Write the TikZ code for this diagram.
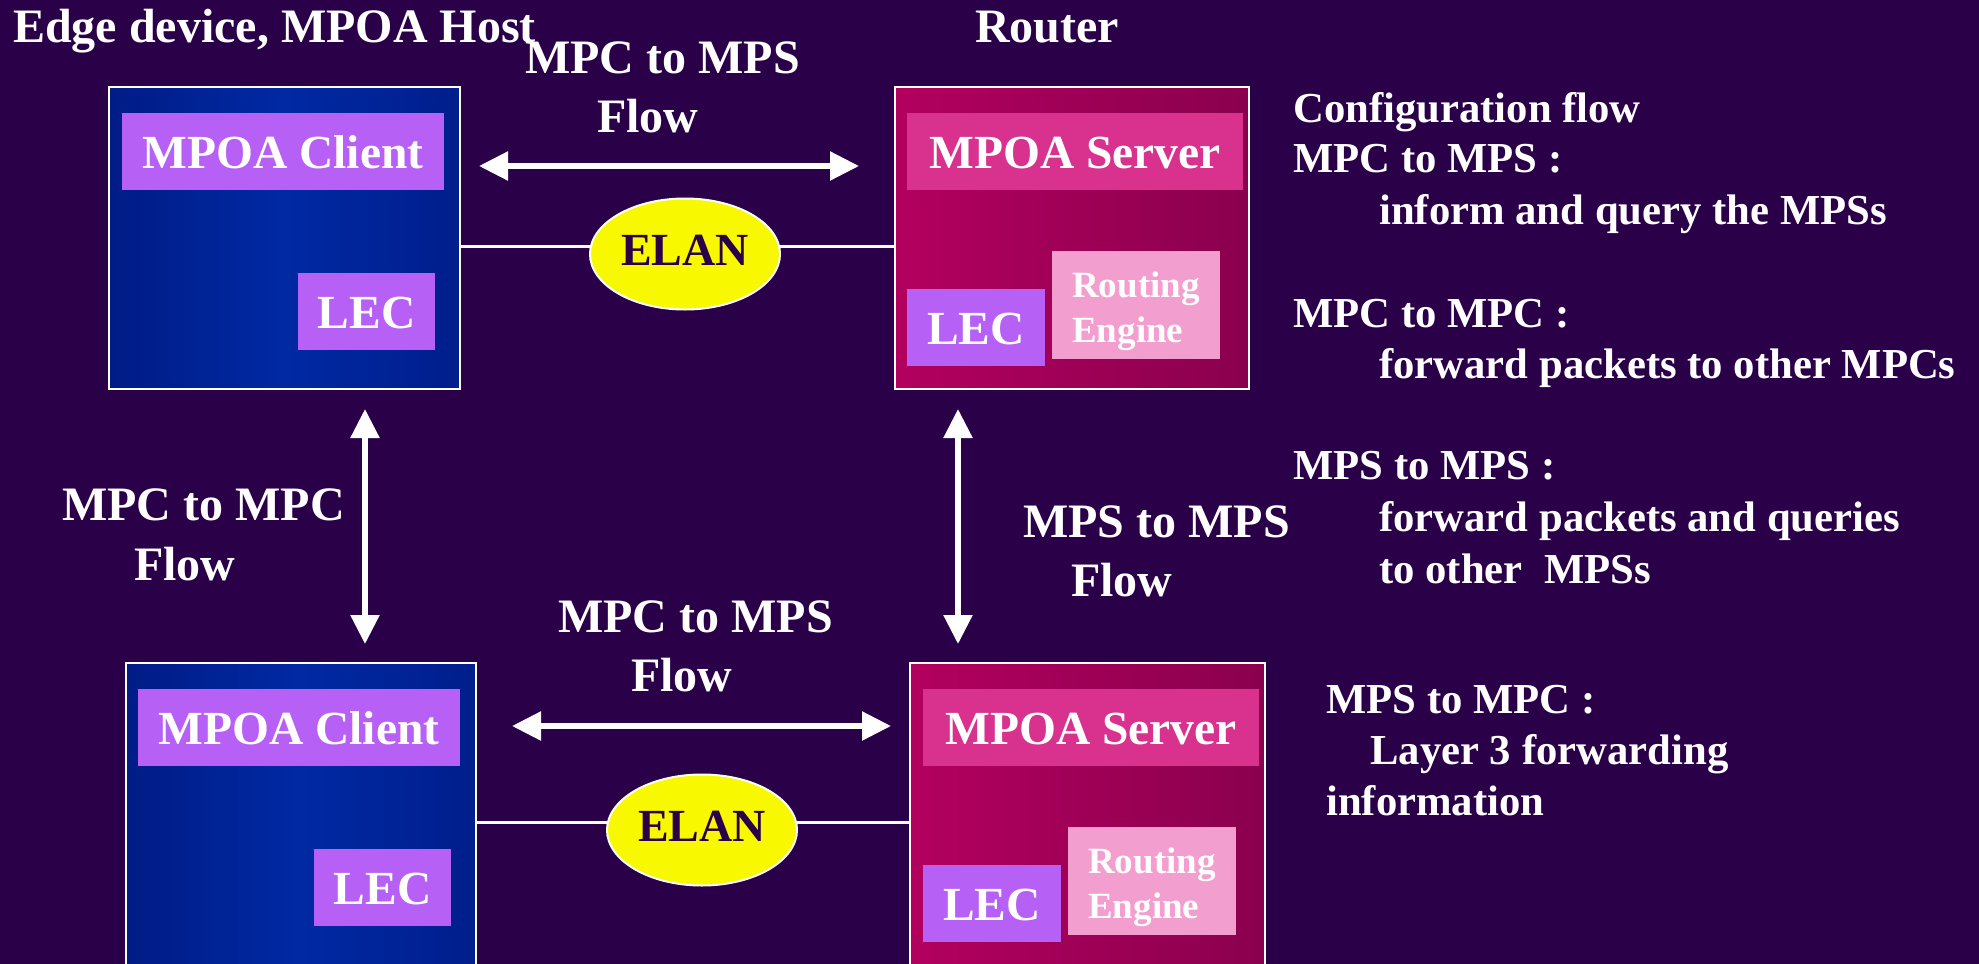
\documentclass[tikz,border=0pt]{standalone}
\usepackage{fontspec}
\setmainfont{Liberation Serif}
\usetikzlibrary{arrows.meta,shapes.geometric}
\definecolor{bg}{HTML}{2A0048}
\definecolor{hostL}{HTML}{001C86}
\definecolor{hostM}{HTML}{0029A3}
\definecolor{hostR}{HTML}{001E8C}
\definecolor{srvL}{HTML}{B3005F}
\definecolor{srvR}{HTML}{8A004E}
\definecolor{lilac}{HTML}{B660F5}
\definecolor{srvlbl}{HTML}{D8318E}
\definecolor{repink}{HTML}{F29FD0}
\definecolor{elanyel}{HTML}{F8F800}
\begin{document}
\begin{tikzpicture}[x=1pt,y=-1pt,
  box/.style={draw=white,line width=2.5pt,inner sep=0pt,minimum height=302pt},
  hostbox/.style={box,left color=hostL,right color=hostR,middle color=hostM},
  srvbox/.style={box,left color=srvL,right color=srvR},
  inbox/.style={inner sep=0pt,text=white,font=\bfseries\fontsize{47.5}{56}\selectfont,
    minimum height=77pt,text height=34pt,text depth=0pt},
  lilacbox/.style={inbox,fill=lilac},
  srvlblbox/.style={inbox,fill=srvlbl,minimum width=336pt},
  rebox/.style={inner sep=0pt,fill=repink,text=white,align=left,minimum width=168pt,minimum height=108pt,
    text height=75pt,text depth=0pt,font=\bfseries\fontsize{37}{45}\selectfont},
  elan/.style={ellipse,draw=white,line width=2pt,fill=elanyel,text=bg,inner sep=0pt,
    minimum width=190pt,minimum height=111pt,text height=31pt,text depth=9pt,
    font=\bfseries\fontsize{46}{55}\selectfont},
  link/.style={draw=white,line width=3pt},
  dbl/.style={draw=white,line width=5.5pt,
    {Triangle[length=29pt,width=28pt]}-{Triangle[length=29pt,width=28pt]}},
  lbl/.style={anchor=base west,inner sep=0pt,text=white,font=\bfseries\fontsize{48}{56}\selectfont},
  desc/.style={lbl,font=\bfseries\fontsize{42.7}{52}\selectfont}
]
\useasboundingbox (0,0) rectangle (1979,964);
\clip (0,0) rectangle (1979,964);
\fill[bg] (0,0) rectangle (1979,964);

% titles
\node[lbl] (t1) at (13,42) {Edge device, MPOA Host};
\node[lbl] (t2) at (975,42) {Router};

% top row boxes
\node[hostbox,minimum width=351pt] (host1) at (284.5,238) {};
\node[srvbox,minimum width=354pt] (srv1) at (1072,238) {};
\node[lilacbox,minimum width=322pt] (mpc1) at (283,151.5) {MPOA Client};
\node[lilacbox,minimum width=137pt] (lec1) at (366.5,311.5) {LEC};
\node[srvlblbox] (mps1) at (1075,151.5) {MPOA Server};
\node[rebox] (re1) at (1136,305) {Routing\\Engine};
\node[lilacbox,minimum width=138pt] (slec1) at (976,327.5) {LEC};

% bottom row boxes
\node[hostbox,minimum width=350pt] (host2) at (301,814) {};
\node[srvbox,minimum width=355pt] (srv2) at (1087.5,814) {};
\node[lilacbox,minimum width=322pt] (mpc2) at (299,727.5) {MPOA Client};
\node[lilacbox,minimum width=137pt] (lec2) at (382.5,887.5) {LEC};
\node[srvlblbox] (mps2) at (1091,727.5) {MPOA Server};
\node[rebox] (re2) at (1152,881) {Routing\\Engine};
\node[lilacbox,minimum width=138pt] (slec2) at (992,903.5) {LEC};

% ELAN links
\draw[link] ([yshift=-8pt]host1.east) -- ([yshift=-8pt]srv1.west);
\draw[link] ([yshift=-8pt]host2.east) -- ([yshift=-8pt]srv2.west);
\node[elan] (elan1) at (685,254) {ELAN};
\node[elan] (elan2) at (702,830) {ELAN};

% flow arrows
\coordinate (a1l) at (479,166);
\coordinate (a1r) at (859,166);
\coordinate (a2l) at (512,726);
\coordinate (a2r) at (891,726);
\coordinate (v1t) at (365,409);
\coordinate (v1b) at (365,644);
\coordinate (v2t) at (958,409);
\coordinate (v2b) at (958,644);
\draw[dbl] (a1l) -- (a1r);
\draw[dbl] (a2l) -- (a2r);
\draw[dbl] (v1t) -- (v1b);
\draw[dbl] (v2t) -- (v2b);

% flow labels
\node[lbl] (f1a) at (525,73) {MPC to MPS};
\node[lbl] (f1b) at (597,132) {Flow};
\node[lbl] (f2a) at (558,632) {MPC to MPS};
\node[lbl] (f2b) at (631,691) {Flow};
\node[lbl] (f3a) at (62,520) {MPC to MPC};
\node[lbl] (f3b) at (134,580) {Flow};
\node[lbl] (f4a) at (1023,537) {MPS to MPS};
\node[lbl] (f4b) at (1071,596) {Flow};

% description text
\node[desc] (d1) at (1293,122) {Configuration flow};
\node[desc] (d2) at (1293,172) {MPC to MPS :};
\node[desc] (d3) at (1379,224) {inform and query the MPSs};
\node[desc] (d4) at (1293,327) {MPC to MPC :};
\node[desc] (d5) at (1379,378) {forward packets to other MPCs};
\node[desc] (d6) at (1293,479) {MPS to MPS :};
\node[desc] (d7) at (1379,531) {forward packets and queries};
\node[desc] (d8) at (1379,583) {to other~~MPSs};
\node[desc] (d9) at (1326,713) {MPS to MPC :};
\node[desc] (d10) at (1370,764) {Layer 3 forwarding};
\node[desc] (d11) at (1326,815) {information};
\end{tikzpicture}
\end{document}
